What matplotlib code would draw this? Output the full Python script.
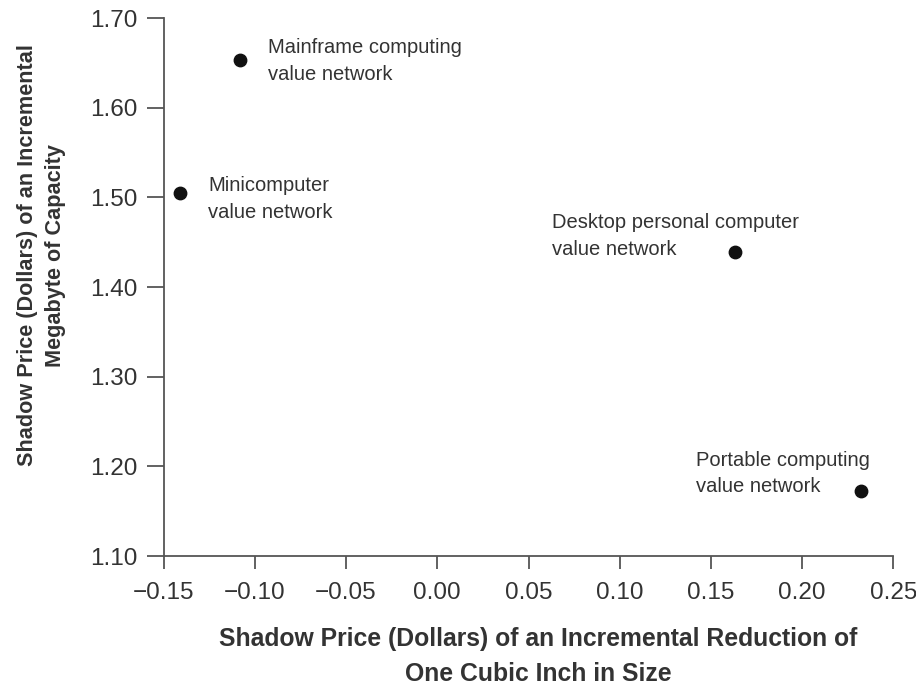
import matplotlib
matplotlib.use("Agg")
import matplotlib.pyplot as plt

# shadow prices
networks = [
    "Mainframe computing\nvalue network",
    "Minicomputer\nvalue network",
    "Desktop personal computer\nvalue network",
    "Portable computing\nvalue network",
]
size_price = [-0.108, -0.141, 0.163, 0.232]
capacity_price = [1.653, 1.505, 1.439, 1.172]
# label offsets from each dot, in pixels
label_offsets = [(28, -1), (28, -6), (-183, 16), (-165, 18)]

x_ticks = [-0.15, -0.10, -0.05, 0.00, 0.05, 0.10, 0.15, 0.20, 0.25]
y_ticks = [1.10, 1.20, 1.30, 1.40, 1.50, 1.60, 1.70]

TEXT = "#333333"
AXIS = "#555555"

def main():
    plt.rcParams["font.family"] = ["Liberation Sans", "DejaVu Sans"]
    fig = plt.figure(figsize=(9.16, 6.85), dpi=100)
    ax = fig.add_axes([0.1786, 0.1883, 0.7968, 0.7854])

    ax.scatter(size_price, capacity_price, s=80, color="#111111", zorder=3)
    for name, x, y, off in zip(networks, size_price, capacity_price, label_offsets):
        ax.annotate(name, (x, y), xytext=off, textcoords="offset pixels",
                    ha="left", va="center", fontsize=14.5, color=TEXT,
                    linespacing=1.5)

    ax.set_xlim(-0.15, 0.25)
    ax.set_ylim(1.10, 1.70)
    ax.set_xticks(x_ticks)
    ax.set_yticks(y_ticks)
    ax.set_xticklabels(["\u2212%.2f" % abs(v) if v < 0 else "%.2f" % v for v in x_ticks])
    ax.set_yticklabels(["%.2f" % v for v in y_ticks])

    for side in ("top", "right"):
        ax.spines[side].set_visible(False)
    for side in ("left", "bottom"):
        ax.spines[side].set_color(AXIS)
        ax.spines[side].set_linewidth(1.3)
    ax.tick_params(axis="both", direction="out", width=1.3, color=AXIS,
                   labelsize=17.5, labelcolor=TEXT)
    ax.tick_params(axis="x", length=9.5, pad=9.5)
    ax.tick_params(axis="y", length=12, pad=7)

    ax.set_xlabel("Shadow Price (Dollars) of an Incremental Reduction of\nOne Cubic Inch in Size",
                  fontsize=17.8, fontweight="bold", color=TEXT, linespacing=1.6)
    ax.xaxis.set_label_coords(0.513, -0.132)
    ax.set_ylabel("Shadow Price (Dollars) of an Incremental\nMegabyte of Capacity",
                  fontsize=15.6, fontweight="bold", color=TEXT, linespacing=1.4)
    ax.yaxis.set_label_coords(-0.134, 0.559)

    fig.savefig("out.png", dpi=100, facecolor="white")

if __name__ == "__main__":
    main()
